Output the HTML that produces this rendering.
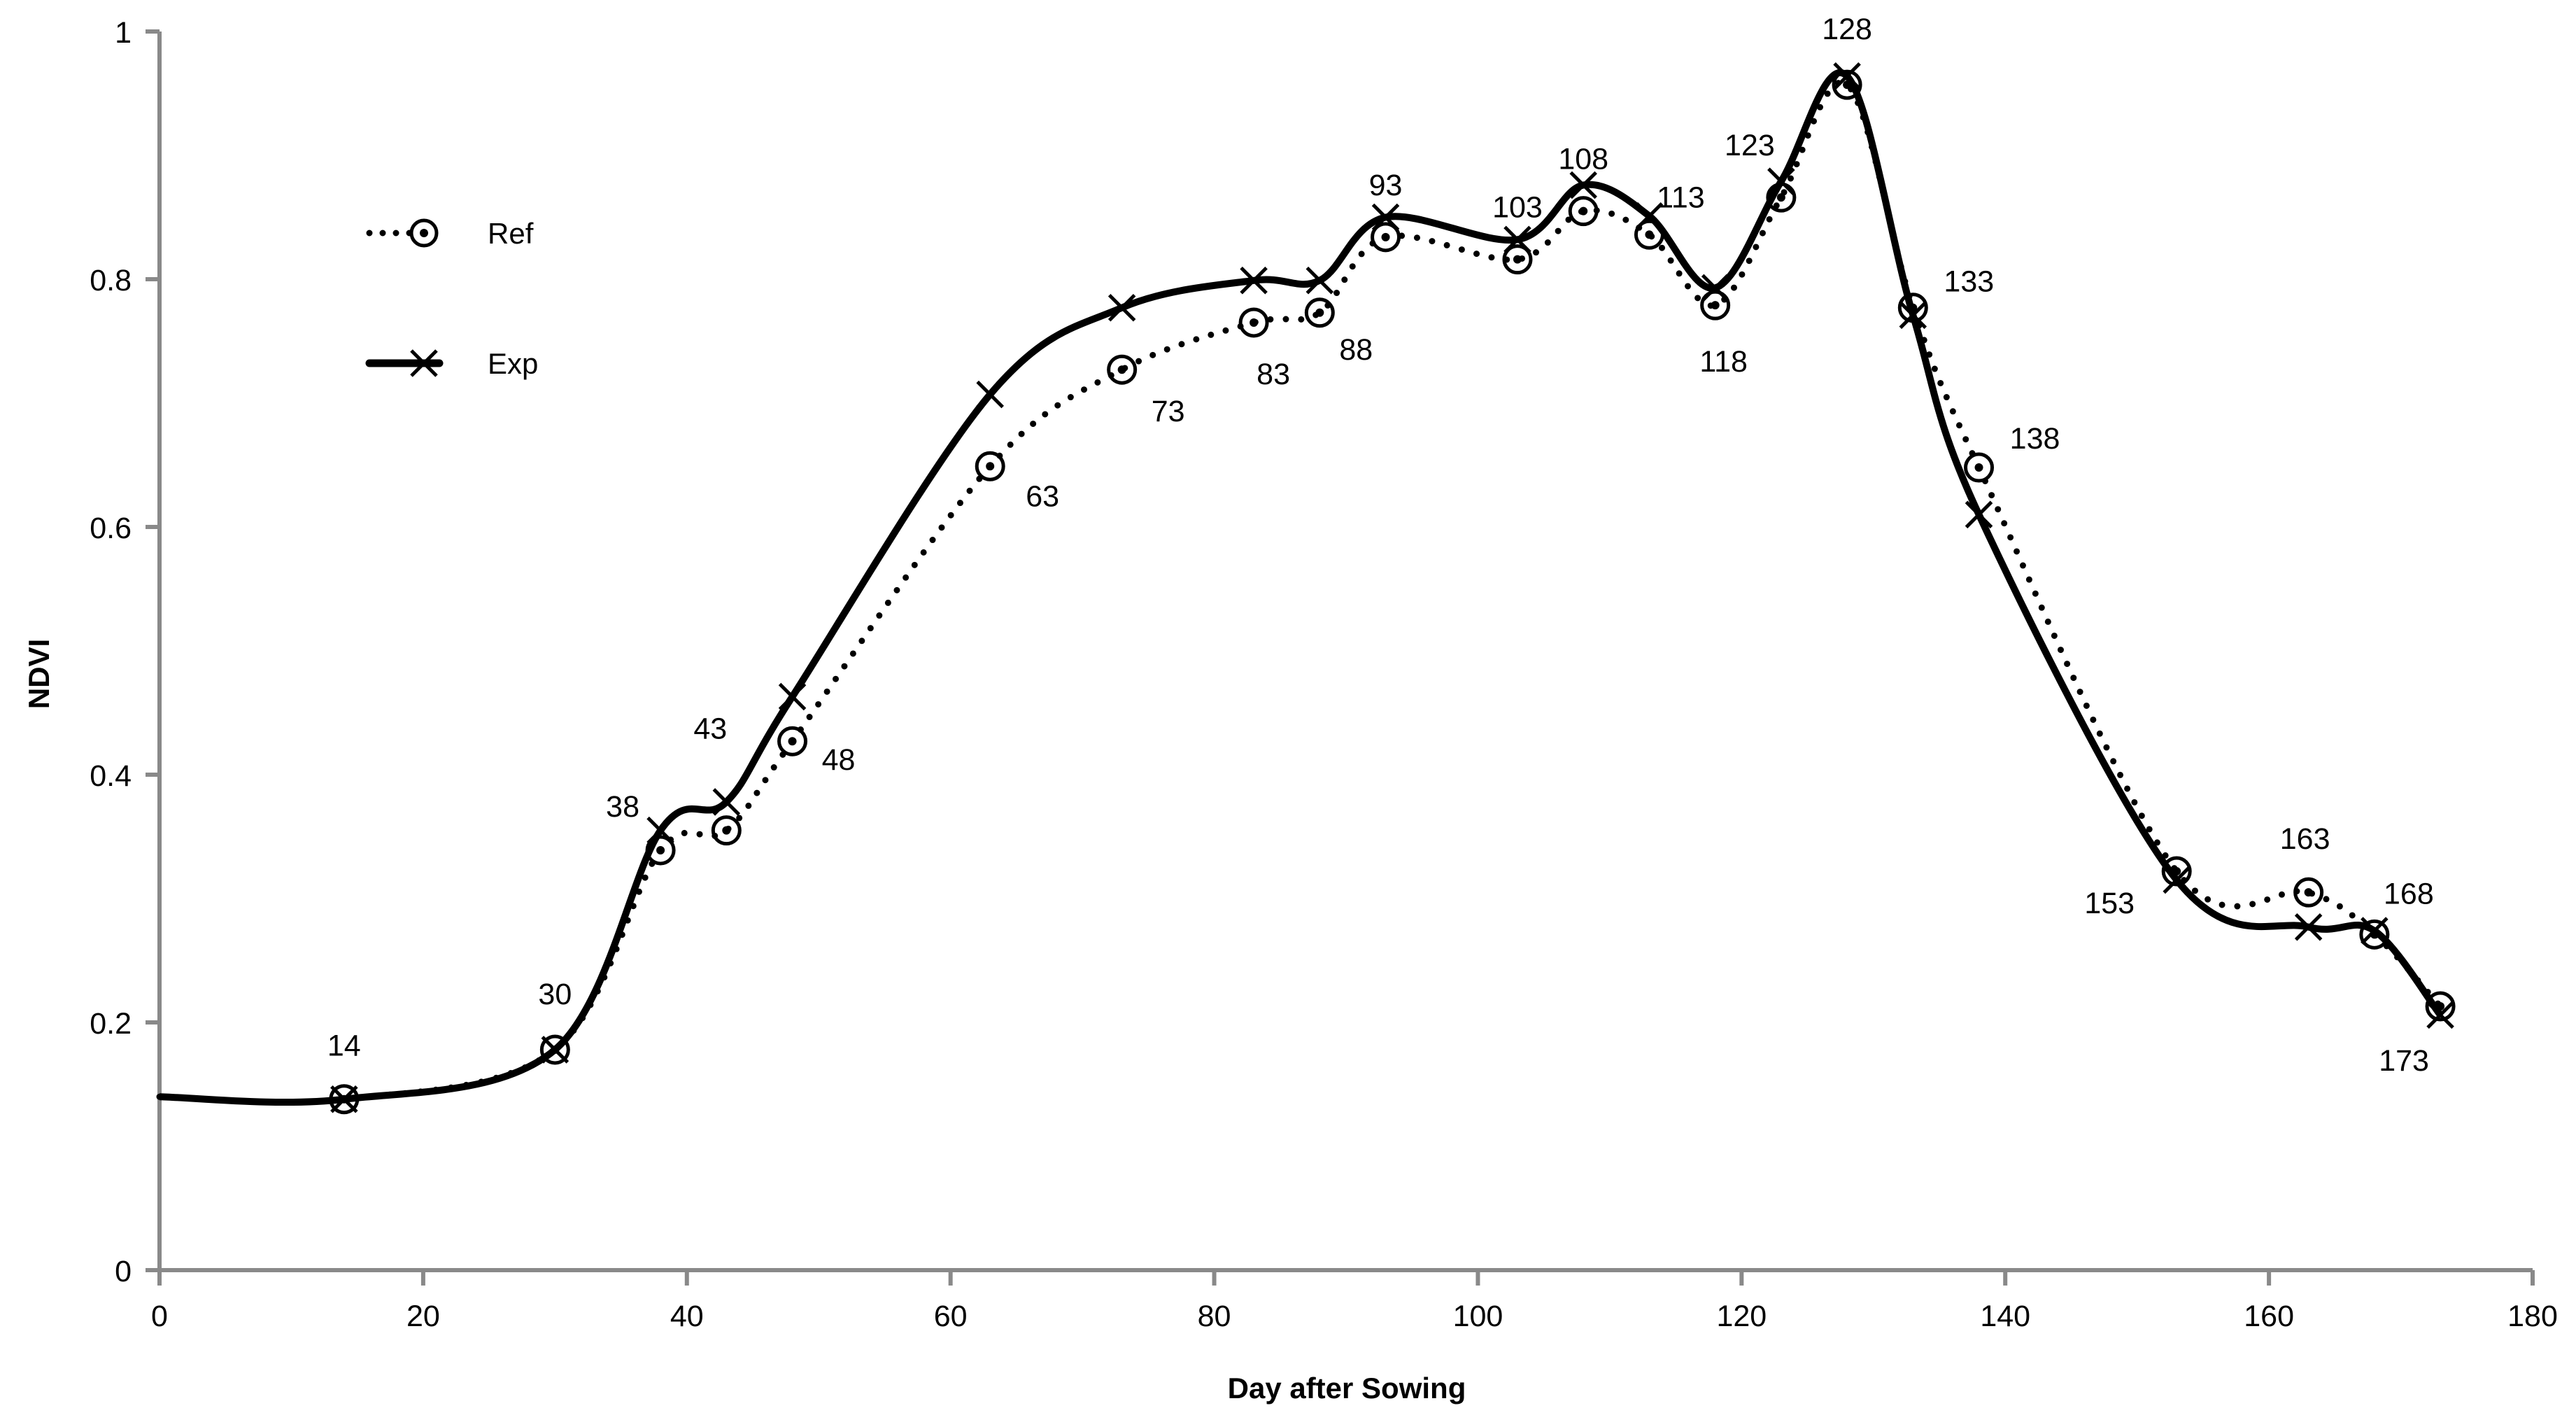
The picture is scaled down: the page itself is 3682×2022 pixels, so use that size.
<!DOCTYPE html>
<html><head><meta charset="utf-8"><style>
html,body{margin:0;padding:0;background:#fff;}
svg{display:block;font-family:"Liberation Sans",sans-serif;}
</style></head><body>
<svg id="chart" width="3682" height="2022" viewBox="0 0 3682 2022" xmlns="http://www.w3.org/2000/svg">
<g id="axes"></g>
<g id="series"></g>
<g id="labels"></g>
<text x="1925" y="1998" font-size="42" font-weight="bold" text-anchor="middle">Day after Sowing</text>
<text x="0" y="0" font-size="42" font-weight="bold" text-anchor="middle" transform="translate(70,963) rotate(-90)">NDVI</text>
<g>
 <g>
  <line x1="528" y1="333" x2="622" y2="333" stroke="#000" stroke-width="9" stroke-linecap="round" stroke-dasharray="0 19"/>
  <circle cx="606" cy="333" r="18" fill="#fff" stroke="#000" stroke-width="5"/>
  <circle cx="606" cy="333" r="6" fill="#000"/>
  <text x="697" y="348" font-size="42">Ref</text>
 </g>
 <g>
  <line x1="528" y1="519" x2="628" y2="519" stroke="#000" stroke-width="11" stroke-linecap="round"/>
  <path d="M588 501 L624 537 M624 501 L588 537" stroke="#000" stroke-width="5"/>
  <text x="697" y="534" font-size="42">Exp</text>
 </g>
</g>
</svg>
<script>
const days = [14,30,38,43,48,63,73,83,88,93,103,108,113,118,123,128,133,138,153,163,168,173];
const refValues = [0.138,0.178,0.339,0.355,0.427,0.649,0.727,0.765,0.773,0.834,0.816,0.855,0.836,0.779,0.866,0.957,0.777,0.648,0.322,0.305,0.271,0.213];
const expValues = [0.138,0.178,0.355,0.378,0.463,0.707,0.777,0.799,0.799,0.850,0.832,0.876,0.851,0.793,0.879,0.964,0.771,0.610,0.315,0.277,0.274,0.206];
const startDay = 0, startValue = 0.14;
const xTicks = [0,20,40,60,80,100,120,140,160,180];
const yTicks = [0,0.2,0.4,0.6,0.8,1];
const yTickLabels = ["0","0.2","0.4","0.6","0.8","1"];
// label offsets (style, px relative to ref point)
const labelDx = [0,0,-54,-23,66,75,66,28,52,0,0,0,45,12,-45,0,80,80,-96,-5,49,-52];
const labelDy = [-77,-80,-63,-146,26,42,59,73,52,-75,-75,-75,-54,80,-75,-80,-38,-42,45,-77,-59,77];

const NS="http://www.w3.org/2000/svg";
const X0=228, XS=(3620-228)/180, Y0=1815, YS=1770;
const xs=v=>X0+v*XS, ys=v=>Y0-v*YS;
function mk(tag,attrs,parent){const e=document.createElementNS(NS,tag);for(const k in attrs)e.setAttribute(k,attrs[k]);parent.appendChild(e);return e;}
const axes=document.getElementById('axes');
const grey='#898989';
let e=mk('line',{x1:X0,y1:Y0,x2:xs(180),y2:Y0,stroke:grey,'stroke-width':6},axes);


e=mk('line',{x1:X0,y1:ys(1),x2:X0,y2:Y0,stroke:grey,'stroke-width':6},axes);


xTicks.forEach(t=>{
  const x=xs(t);
  const l=mk('line',{x1:x,y1:Y0,x2:x,y2:Y0+22,stroke:grey,'stroke-width':6},axes);
  
  
  const tx=mk('text',{x:x,y:Y0+80,'font-size':43,'text-anchor':'middle'},axes);
  tx.textContent=t;
  
  
});
yTicks.forEach((t,i)=>{
  const y=ys(t);
  const l=mk('line',{x1:X0-20,y1:y,x2:X0,y2:y,stroke:grey,'stroke-width':6},axes);
  
  
  const tx=mk('text',{x:X0-40,y:y+16,'font-size':43,'text-anchor':'end'},axes);
  tx.textContent=yTickLabels[i];
  
  
});
function smooth(pts){
  let d='M'+pts[0][0]+' '+pts[0][1];
  for(let i=0;i<pts.length-1;i++){
    const p0=pts[Math.max(0,i-1)],p1=pts[i],p2=pts[i+1],p3=pts[Math.min(pts.length-1,i+2)];
    const c1=[p1[0]+(p2[0]-p0[0])/6,p1[1]+(p2[1]-p0[1])/6];
    const c2=[p2[0]-(p3[0]-p1[0])/6,p2[1]-(p3[1]-p1[1])/6];
    d+=` C${c1[0]} ${c1[1]} ${c2[0]} ${c2[1]} ${p2[0]} ${p2[1]}`;
  }
  return d;
}
const series=document.getElementById('series');
const refPts=[[xs(startDay),ys(startValue)]].concat(days.map((d,i)=>[xs(d),ys(refValues[i])]));
const expPts=[[xs(startDay),ys(startValue)]].concat(days.map((d,i)=>[xs(d),ys(expValues[i])]));
e=mk('path',{d:smooth(expPts),fill:'none',stroke:'#000','stroke-width':10,'stroke-linejoin':'round'},series);


e=mk('path',{d:smooth(refPts),fill:'none',stroke:'#000','stroke-width':9,'stroke-linecap':'round','stroke-dasharray':'0 22'},series);


days.forEach((d,i)=>{
  const x=xs(d),y=ys(expValues[i]);
  const m=mk('path',{d:`M${x-18} ${y-18} L${x+18} ${y+18} M${x+18} ${y-18} L${x-18} ${y+18}`,stroke:'#000','stroke-width':5},series);
  
  
});
days.forEach((d,i)=>{
  const x=xs(d),y=ys(refValues[i]);
  const g=mk('g',{},series);
  
  
  mk('circle',{cx:x,cy:y,r:19,fill:'none',stroke:'#000','stroke-width':5},g);
  mk('circle',{cx:x,cy:y,r:6,fill:'#000'},g);
});
const labels=document.getElementById('labels');
days.forEach((d,i)=>{
  const t=mk('text',{x:xs(d)+labelDx[i],y:ys(refValues[i])+labelDy[i]+15,'font-size':43,'text-anchor':'middle'},labels);
  t.textContent=d;
  
  
});
</script>
</body></html>
